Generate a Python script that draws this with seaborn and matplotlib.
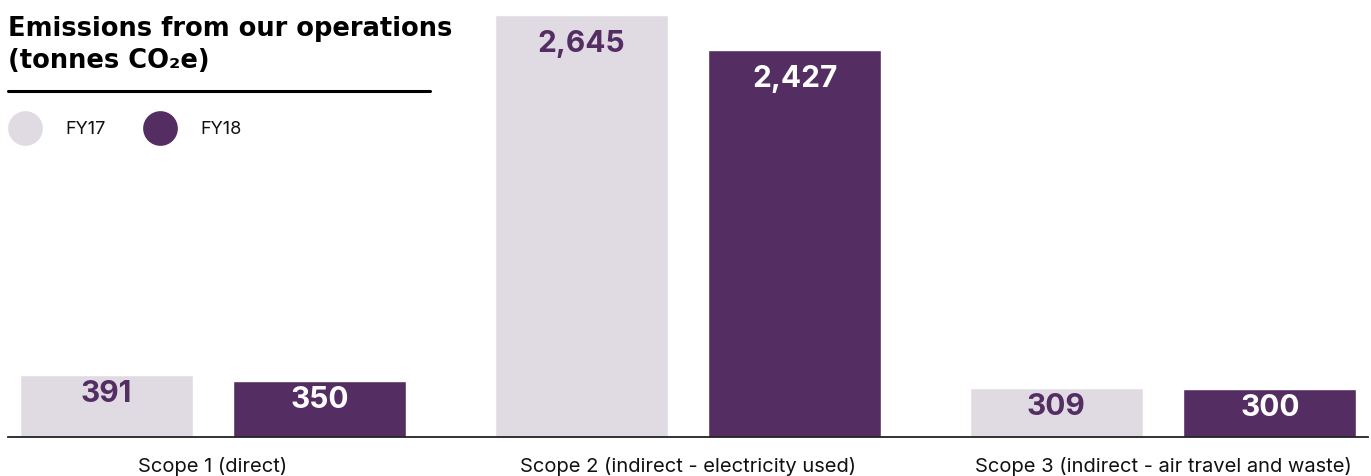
import matplotlib
matplotlib.use("Agg")
import matplotlib.pyplot as plt
from matplotlib.lines import Line2D
import seaborn as sns
import pandas as pd

categories = ["Scope 1 (direct)", "Scope 2 (indirect - electricity used)",
              "Scope 3 (indirect - air travel and waste)"]
years = ["FY17", "FY18"]
fy17 = [391, 2645, 309]
fy18 = [350, 2427, 300]

light = "#E0DBE3"
dark = "#542D62"

sns.set_theme(style="white")
plt.rcParams["font.family"] = ["Inter", "DejaVu Sans"]

W, H = 1371, 477
fig = plt.figure(figsize=(W / 100, H / 100), dpi=100)
ax = fig.add_axes([8 / W, (H - 438) / H, (1368 - 8) / W, (438 - 16) / H])

df = pd.DataFrame({
    "category": categories * 2,
    "year": [years[0]] * 3 + [years[1]] * 3,
    "value": fy17 + fy18,
})

sns.barplot(data=df, x="category", y="value", hue="year", order=categories,
            hue_order=years, palette=[light, dark], width=0.9, gap=0.19,
            saturation=1, legend=False, ax=ax, errorbar=None)

ax.set_xlim(-0.4316, 2.4316)
ax.set_ylim(0, max(fy17 + fy18))
for s in ["top", "right", "left"]:
    ax.spines[s].set_visible(False)
ax.spines["bottom"].set_color("#222222")
ax.spines["bottom"].set_linewidth(1.3)
ax.set_yticks([])
ax.set_xlabel("")
ax.set_ylabel("")
ax.tick_params(axis="x", length=0, pad=14, labelsize=14.5, labelcolor="#111111")

for cont, col in zip(ax.containers, [dark, "white"]):
    for bar in cont:
        h = bar.get_height()
        off = -28 if h > 1000 else -18
        ax.annotate(f"{h:,.0f}", (bar.get_x() + bar.get_width() / 2, h),
                    xytext=(0, off), textcoords="offset pixels",
                    ha="center", va="center", fontsize=21.5, fontweight="bold",
                    color=col)

# title
fig.text(8 / W, 1 - 45 / H, "Emissions from our operations\n(tonnes CO\u2082e)",
         ha="left", va="center", fontsize=18.5, fontweight="bold",
         family=["DejaVu Sans"], color="black", linespacing=1.3)
fig.add_artist(Line2D([8 / W, 430 / W], [1 - 92 / H, 1 - 92 / H],
                      color="black", linewidth=2.2, transform=fig.transFigure))

# legend
for cx, tx, lab, col in [(24.5, 65, years[0], light), (160, 200, years[1], dark)]:
    fig.add_artist(Line2D([cx / W], [1 - 129 / H], marker="o", markersize=25,
                          markerfacecolor=col, markeredgewidth=0, linestyle="none",
                          transform=fig.transFigure))
    fig.text(tx / W, 1 - 130 / H, lab, ha="left", va="center", fontsize=13,
             color="#111111")

fig.savefig("out.png", dpi=100)
